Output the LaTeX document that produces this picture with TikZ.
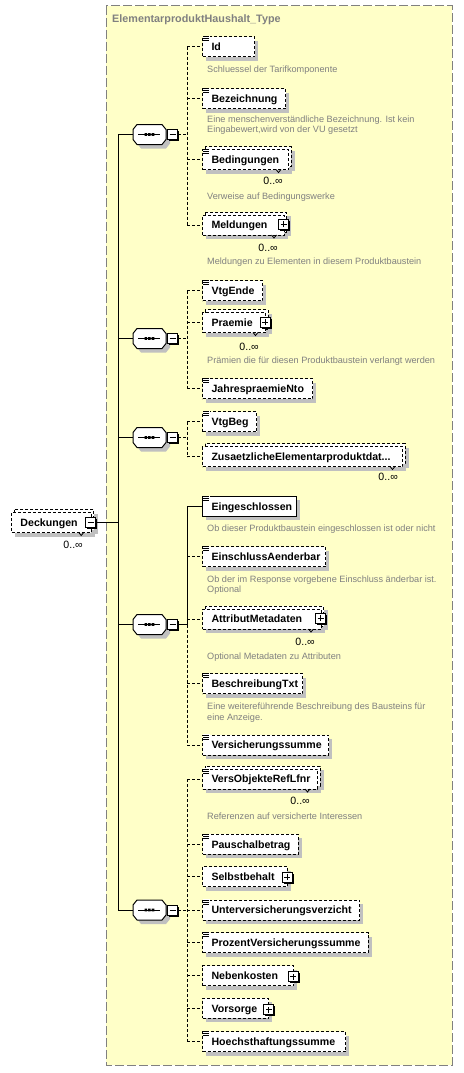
\documentclass[tikz,border=0pt]{standalone}
\usepackage{fontspec}
\setmainfont{Liberation Sans}
\usetikzlibrary{shadows}
\definecolor{bgyellow}{RGB}{255,255,200}
\definecolor{shadowc}{RGB}{192,192,192}
\definecolor{frameg}{RGB}{128,128,128}
\definecolor{desctext}{RGB}{128,128,128}
\newcommand\elfont{\fontsize{10.6}{12}\selectfont\bfseries}
\newcommand\dsfont{\fontsize{9.15}{10.3}\selectfont}
\newcommand\mlfont{\fontsize{10.6}{12}\selectfont}
\tikzset{
  elem/.style={draw, fill=white, dash pattern=on 3pt off 2pt, line width=1pt, inner sep=0pt,
    minimum height=20pt, text height=7.6pt, text depth=0pt, anchor=west, font=\elfont},
  backbox/.style={draw, fill=white, dash pattern=on 3pt off 2pt, line width=1pt},
  shade/.style={fill=shadowc},
  conn/.style={line width=1pt, dash pattern=on 3pt off 2pt},
  sconn/.style={line width=1pt},
  desc/.style={anchor=base west, inner sep=0pt, font=\dsfont, text=desctext},
  mult/.style={anchor=base east, inner sep=0pt, font=\mlfont},
  pmbox/.style={draw, fill=white, line width=1pt, inner sep=0pt, minimum size=10pt,
    general shadow={fill=black, shadow xshift=1.5pt, shadow yshift=-1.5pt}},
  seqnode/.style={inner sep=0pt, minimum width=33pt, minimum height=20pt},
}
% #1 name #2 label #3 x0 #4 w #5 yc #6 multi #7 style
\newcommand\Elem[7]{%
  \ifnum#6=1 \fill[shade] (#3+7,#5-9) rectangle ++(#4,20);\fi
  \fill[shade] (#3+4,#5-6) rectangle ++(#4,20);
  \ifnum#6=1 \draw[backbox] (#3+3,#5-13) rectangle ++(#4,20);\fi
  \node[elem,#7] (#1) at (#3,#5) {\makebox[#4pt][l]{\hspace{9pt}#2}};
}
\newcommand\Icon[1]{%
  \fill[white] (202.6,#1-10.6) rectangle (210,#1-4.6);
  \draw[line width=0.9pt] (203.3,#1-10) -- (209,#1-10) (203.3,#1-8) -- (209,#1-8) (203.3,#1-6) -- (209,#1-6);
}
\newcommand\Plus[3]{%
  \node[pmbox] (#1) at (#2,#3) {};
  \draw[line width=1pt] ([xshift=-3pt]#1.center) -- ([xshift=3pt]#1.center)
    ([yshift=-3pt]#1.center) -- ([yshift=3pt]#1.center);
}
\newcommand\Minus[3]{%
  \node[pmbox] (#1) at (#2,#3) {};
  \draw[line width=1pt] ([xshift=-3pt]#1.center) -- ([xshift=3pt]#1.center);
}
\newcommand\Tick[2]{\draw[line width=0.8pt] (#1-12,#2+10) -- (#1-9.5,#2+13) -- (#1-7,#2+10);}
% #1 name #2 yc #3 minus name
\newcommand\Seq[3]{%
  \fill[shade] (137,#2-1) -- (141,#2-6) -- (166,#2-6) -- (170,#2-1) -- (170,#2+9) -- (166,#2+14) -- (141,#2+14) -- (137,#2+9) -- cycle;
  \draw[line width=1pt, fill=white] (133,#2-5) -- (137,#2-10) -- (162,#2-10) -- (166,#2-5) -- (166,#2+5) -- (162,#2+10) -- (137,#2+10) -- (133,#2+5) -- cycle;
  \draw[line width=1pt] (138,#2) -- (160,#2);
  \fill (144.5,#2-1.3) rectangle ++(2.6,2.6) (148.1,#2-1.3) rectangle ++(2.6,2.6) (151.7,#2-1.3) rectangle ++(2.6,2.6);
  \node[seqnode] (#1) at (149.5,#2) {};
  \Minus{#3}{172.5}{#2}
}
\begin{document}
\begin{tikzpicture}[x=1pt,y=-1pt]
\useasboundingbox (0,0) rectangle (463,1073);
\fill[white] (0,0) rectangle (463,1073);
\draw[fill=bgyellow, draw=frameg, line width=1pt, dash pattern=on 9pt off 3pt] (106,6) rectangle (452,1065);
\node[anchor=base west, inner sep=0pt, font=\fontsize{10.8}{12}\selectfont\bfseries, text=frameg] (title) at (112,22.2) {ElementarproduktHaushalt\_Type};

% Deckungen
\Elem{deck}{Deckungen}{11}{79.7}{522.5}{1}{}
\Tick{90.7}{522.5}
\Minus{dm}{90.5}{522}
\node[mult] (deckm) at (83,548.1) {0..∞};

% sequences
\Seq{s1}{134.5}{m1}
\Seq{s2}{338.5}{m2}
\Seq{s3}{437.5}{m3}
\Seq{s4}{624.5}{m4}
\Seq{s5}{910}{m5}

% Seq 1
\Elem{id}{Id}{202}{52}{46.7}{0}{}\Icon{46.7}
\node[desc] (did) at (207,72.6) {Schluessel der Tarifkomponente};
\Elem{bez}{Bezeichnung}{202}{83}{98.5}{0}{}\Icon{98.5}
\node[desc] (dbez1) at (207,122.3) {Eine menschenverständliche Bezeichnung. Ist kein};
\node[desc] (dbez2) at (207,132.6) {Eingabewert,wird von der VU gesetzt};
\Elem{bed}{Bedingungen}{202}{86}{159.5}{1}{}\Icon{159.5}\Tick{288}{159.5}
\node[mult] (bedm) at (283,184.8) {0..∞};
\node[desc] (dbed) at (207,199) {Verweise auf Bedingungswerke};
\Elem{meld}{Meldungen}{202}{81.5}{225}{1}{}\Tick{283.5}{225}
\Plus{meldp}{283.5}{224}
\node[mult] (meldm) at (278,251.1) {0..∞};
\node[desc] (dmeld) at (207,264) {Meldungen zu Elementen in diesem Produktbaustein};

% Seq 2
\Elem{vtgende}{VtgEnde}{202}{60}{290.5}{0}{}\Icon{290.5}
\Elem{praemie}{Praemie}{202}{63}{322.5}{1}{}\Tick{265}{322.5}
\Plus{praemiep}{265}{322.3}
\node[mult] (praemiem) at (259,350.5) {0..∞};
\node[desc] (dpraemie) at (207,363.3) {Prämien die für diesen Produktbaustein verlangt werden};
\Elem{jahres}{JahrespraemieNto}{202}{110}{388.5}{0}{}\Icon{388.5}

% Seq 3
\Elem{vtgbeg}{VtgBeg}{202}{54}{421.5}{0}{}\Icon{421.5}
\Elem{zus}{ZusaetzlicheElementarproduktdat...}{202}{200}{456.5}{1}{}\Tick{402}{456.5}
\node[mult] (zusm) at (398,480.5) {0..∞};

% Seq 4
\Elem{eing}{Eingeschlossen}{202}{94}{506.3}{0}{solid}\Icon{506.3}
\node[desc] (deing) at (207,531.6) {Ob dieser Produktbaustein eingeschlossen ist oder nicht};
\Elem{einsch}{EinschlussAenderbar}{202}{123}{556.7}{0}{}\Icon{556.7}
\node[desc] (deinsch1) at (207,582.6) {Ob der im Response vorgebene Einschluss änderbar ist.};
\node[desc] (deinsch2) at (207,592.6) {Optional};
\Elem{attr}{AttributMetadaten}{202}{118.5}{619}{1}{}\Tick{320.5}{619}
\Plus{attrp}{320.5}{618}
\node[mult] (attrm) at (315,645.5) {0..∞};
\node[desc] (dattr) at (207,659) {Optional Metadaten zu Attributen};
\Elem{beschr}{BeschreibungTxt}{202}{100}{683.5}{0}{}\Icon{683.5}
\node[desc] (dbeschr1) at (207,709.3) {Eine weitereführende Beschreibung des Bausteins für};
\node[desc] (dbeschr2) at (207,720) {eine Anzeige.};
\Elem{vsum}{Versicherungssumme}{202}{126}{745}{0}{}\Icon{745}

% Seq 5
\Elem{vers}{VersObjekteRefLfnr}{202}{115}{779}{1}{}\Icon{779}\Tick{317}{779}
\node[mult] (versm) at (310,804.8) {0..∞};
\node[desc] (dvers) at (207,819.3) {Referenzen auf versicherte Interessen};
\Elem{pausch}{Pauschalbetrag}{202}{95.7}{844.3}{0}{}\Icon{844.3}
\Elem{selbst}{Selbstbehalt}{202}{84.7}{876.7}{0}{}
\Plus{selbstp}{287.2}{877.2}
\Elem{unter}{Unterversicherungsverzicht}{202}{157.3}{910}{0}{}\Icon{910}
\Elem{prozent}{ProzentVersicherungssumme}{202}{165.7}{942.7}{0}{}\Icon{942.7}
\Elem{neben}{Nebenkosten}{202}{91.3}{975.5}{0}{}
\Plus{nebenp}{293.2}{976.5}
\Elem{vorsorge}{Vorsorge}{202}{66.3}{1008.3}{0}{}
\Plus{vorsorgep}{268.8}{1009.5}
\Elem{hoechst}{Hoechsthaftungssumme}{202}{143}{1041.7}{0}{}\Icon{1041.7}

% trunk connectors
\coordinate (tr) at (118,522);
\coordinate (t1) at (118,134.5);
\coordinate (t2) at (118,338.5);
\coordinate (t3) at (118,437.5);
\coordinate (t4) at (118,624.5);
\coordinate (t5) at (118,910);
\draw[sconn] (dm.east) -- (tr);
\draw[sconn] (t1) -- (t5);
\foreach \i in {1,...,5} {\draw[sconn] (t\i) -- (s\i.west);}

% child column coordinates
\coordinate (v1) at (187,134.5);
\coordinate (v2) at (187,338.5);
\coordinate (v3) at (187,437.5);
\coordinate (v4) at (187,624.5);
\coordinate (v5) at (187,910);

% seq 1
\draw[conn] (m1.east) -- (v1);
\draw[conn] (v1 |- id.west) -- (v1 |- meld.west);
\foreach \n in {id,bez,bed,meld} {\draw[conn] (v1 |- \n.west) -- (\n.west);}
% seq 2
\draw[conn] (m2.east) -- (v2);
\draw[conn] (v2 |- vtgende.west) -- (v2 |- jahres.west);
\foreach \n in {vtgende,praemie,jahres} {\draw[conn] (v2 |- \n.west) -- (\n.west);}
% seq 3
\draw[conn] (m3.east) -- (v3);
\draw[conn] (v3 |- vtgbeg.west) -- (v3 |- zus.west);
\foreach \n in {vtgbeg,zus} {\draw[conn] (v3 |- \n.west) -- (\n.west);}
% seq 4
\draw[sconn] (m4.east) -- (v4);
\draw[sconn] (v4 |- eing.west) -- (v4);
\draw[conn] (v4) -- (v4 |- vsum.west);
\draw[sconn] (v4 |- eing.west) -- (eing.west);
\foreach \n in {einsch,attr,beschr,vsum} {\draw[conn] (v4 |- \n.west) -- (\n.west);}
% seq 5
\draw[conn] (m5.east) -- (v5);
\draw[conn] (v5 |- vers.west) -- (v5 |- hoechst.west);
\foreach \n in {vers,pausch,selbst,unter,prozent,neben,vorsorge,hoechst} {\draw[conn] (v5 |- \n.west) -- (\n.west);}
\end{tikzpicture}
\end{document}
